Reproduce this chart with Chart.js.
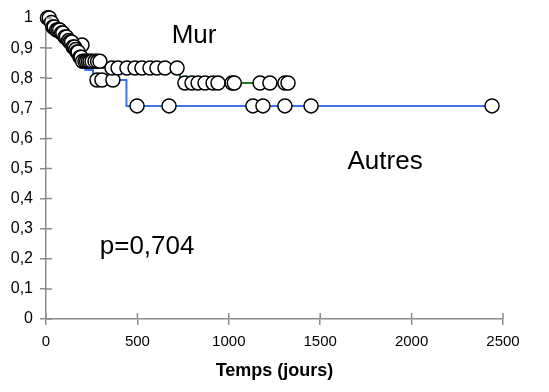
<!DOCTYPE html>
<html>
<head>
<meta charset="utf-8">
<script src="https://cdn.jsdelivr.net/npm/chart.js@4.4.0/dist/chart.umd.min.js"></script>
<style>
  html, body { margin: 0; background: #fff; }
  #wrap { width: 549px; height: 392px; }
</style>
</head>
<body>
<div id="wrap"><canvas id="km"></canvas></div>
<script>
// Kaplan-Meier, groupe "Mur" : temps des pas et survie
const murStepT = [0, 25, 35, 55, 80, 100, 120, 128, 145, 160, 168, 180, 195, 312, 733, 1324];
const murStepS = [1, 0.985, 0.97, 0.96, 0.95, 0.937, 0.925, 0.92, 0.904, 0.895, 0.887, 0.87, 0.856, 0.834, 0.784, 0.784];
// censures "Mur"
const murCensT = [8, 18, 30, 38, 45, 58, 66, 75, 85, 92, 104, 112, 124, 131, 140, 148, 156, 163, 170, 176, 186, 192,
  200, 213, 222, 232, 241, 252, 268, 282, 295,
  361, 394, 443, 487, 525, 569, 607, 651, 717,
  760, 799, 832, 870, 914, 941, 1018, 1030, 1171, 1225, 1307, 1324];
const murCensS = [1, 1, 0.985, 0.97, 0.97, 0.96, 0.96, 0.96, 0.95, 0.95, 0.937, 0.937, 0.925, 0.92, 0.92, 0.904, 0.904, 0.895, 0.887, 0.887, 0.87, 0.87,
  0.856, 0.856, 0.856, 0.856, 0.856, 0.856, 0.856, 0.856, 0.856,
  0.834, 0.834, 0.834, 0.834, 0.834, 0.834, 0.834, 0.834, 0.834,
  0.784, 0.784, 0.784, 0.784, 0.784, 0.784, 0.784, 0.784, 0.784, 0.784, 0.784, 0.784];

// groupe "Autres"
const autStepT = [0, 30, 60, 100, 150, 190, 205, 215, 257, 440, 2440];
const autStepS = [1, 0.98, 0.96, 0.94, 0.925, 0.91, 0.86, 0.827, 0.794, 0.708, 0.708];
const autCensT = [12, 70, 197, 279, 306, 366, 498, 673, 1132, 1187, 1307, 1450, 2440];
const autCensS = [1, 0.96, 0.91, 0.794, 0.794, 0.794, 0.708, 0.708, 0.708, 0.708, 0.708, 0.708, 0.708];

const xTicks = [0, 500, 1000, 1500, 2000, 2500];
const yTicks = [0, 0.1, 0.2, 0.3, 0.4, 0.5, 0.6, 0.7, 0.8, 0.9, 1];

const pts = (t, s) => t.map((v, i) => ({ x: v, y: s[i] }));
const axisGray = '#8c8c8c';
const font = 'Liberation Sans';

const notes = [
  { text: 'Mur', x: 810, y: 0.94 },
  { text: 'Autres', x: 1855, y: 0.522 },
  { text: 'p=0,704', x: 553, y: 0.24 }
];

// petites croix des graduations (côté intérieur) + textes
const extras = {
  id: 'extras',
  afterDraw(chart) {
    const { ctx, scales: { x, y } } = chart;
    ctx.save();
    ctx.strokeStyle = axisGray;
    ctx.lineWidth = 1.5;
    ctx.beginPath();
    xTicks.forEach(v => {
      const px = x.getPixelForValue(v);
      ctx.moveTo(px, y.bottom); ctx.lineTo(px, y.bottom - 6);
    });
    yTicks.forEach(v => {
      const py = y.getPixelForValue(v);
      ctx.moveTo(x.left, py); ctx.lineTo(x.left + 6, py);
    });
    ctx.stroke();
    ctx.fillStyle = '#000';
    ctx.font = '26px "' + font + '"';
    ctx.textAlign = 'center';
    ctx.textBaseline = 'middle';
    notes.forEach(n => ctx.fillText(n.text, x.getPixelForValue(n.x), y.getPixelForValue(n.y)));
    ctx.restore();
  }
};

const marker = {
  showLine: false,
  pointRadius: 7,
  pointHoverRadius: 7,
  pointBackgroundColor: '#fff',
  pointBorderColor: '#000',
  pointBorderWidth: 1.5,
  clip: false
};

new Chart(document.getElementById('km'), {
  type: 'scatter',
  data: {
    datasets: [
      { label: 'Mur censures', data: pts(murCensT, murCensS), ...marker },
      { label: 'Autres censures', data: pts(autCensT, autCensS), ...marker },
      { label: 'Mur', data: pts(murStepT, murStepS), showLine: true, stepped: 'before',
        borderColor: '#1e7d1e', borderWidth: 2, pointRadius: 0 },
      { label: 'Autres', data: pts(autStepT, autStepS), showLine: true, stepped: 'before',
        borderColor: '#3f72e8', borderWidth: 2, pointRadius: 0 }
    ]
  },
  options: {
    responsive: true,
    maintainAspectRatio: false,
    animation: false,
    layout: { padding: { left: 0, right: 46, top: 18, bottom: 0 } },
    plugins: { legend: { display: false }, tooltip: { enabled: false } },
    scales: {
      x: {
        type: 'linear', min: 0, max: 2500,
        afterBuildTicks: s => { s.ticks = xTicks.map(v => ({ value: v })); },
        afterFit: s => { s.height = 73; },
        grid: { display: true, drawOnChartArea: false, drawTicks: true, tickLength: 6, color: axisGray, lineWidth: 1.5 },
        border: { display: true, color: axisGray, width: 1.5 },
        ticks: { color: '#000', padding: 8, font: { family: font, size: 15 }, callback: v => String(v) },
        title: { display: true, text: 'Temps (jours)', color: '#000', padding: { top: 8, bottom: 10 },
          font: { family: font, size: 18, weight: 'bold' } }
      },
      y: {
        min: 0, max: 1,
        afterBuildTicks: s => { s.ticks = yTicks.map(v => ({ value: v })); },
        afterFit: s => { s.width = 46; },
        grid: { display: true, drawOnChartArea: false, drawTicks: true, tickLength: 6, color: axisGray, lineWidth: 1.5 },
        border: { display: true, color: axisGray, width: 1.5 },
        ticks: { color: '#000', padding: 7, font: { family: font, size: 16 },
          callback: v => String(Math.round(v * 10) / 10).replace('.', ',') }
      }
    }
  },
  plugins: [extras]
});
</script>
</body>
</html>
